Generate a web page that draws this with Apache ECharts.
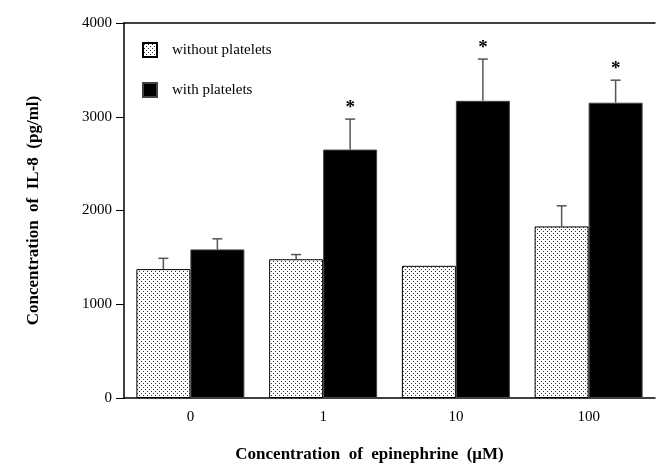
<!DOCTYPE html>
<html>
<head>
<meta charset="utf-8">
<script src="https://cdn.jsdelivr.net/npm/echarts@6/dist/echarts.min.js"></script>
<style>
  html, body { margin: 0; padding: 0; background: #fff; }
  #chart { width: 657px; height: 472px; }
</style>
</head>
<body>
<div id="chart"></div>
<script>
// data
var doses = ['0', '1', '10', '100'];
var withoutPlatelets = [1375, 1480, 1410, 1830];
var withoutErrTop = [1490, 1530, 1410, 2050];
var withPlatelets = [1585, 2650, 3170, 3150];
var withErrTop = [1698, 2975, 3615, 3390];
var significant = [false, true, true, true];

var serif = 'Liberation Serif';
var barW = 54;

// dotted fill for the "without platelets" bars
function dotPattern() {
  var c = document.createElement('canvas');
  c.width = 4; c.height = 4;
  var ctx = c.getContext('2d');
  ctx.fillStyle = '#fff';
  ctx.fillRect(0, 0, 4, 4);
  ctx.fillStyle = '#333';
  ctx.fillRect(1, 1, 1, 1);
  ctx.fillRect(3, 3, 1, 1);
  return c;
}

// error bar (+ optional star) drawn next to the bar center
function errorRenderer(tops, values, side, stars) {
  return function (params, api) {
    var i = api.value(0);
    var top = api.coord([i, tops[i]]);
    var base = api.coord([i, values[i]]);
    var x = top[0] + side * barW / 2;
    var children = [];
    if (tops[i] > values[i]) {
      children.push({
        type: 'line',
        shape: { x1: x, y1: base[1], x2: x, y2: top[1] },
        style: { stroke: '#555', lineWidth: 1.5 }
      });
      children.push({
        type: 'line',
        shape: { x1: x - 5, y1: top[1], x2: x + 5, y2: top[1] },
        style: { stroke: '#555', lineWidth: 1.5 }
      });
    }
    if (stars && stars[i]) {
      children.push({
        type: 'text',
        style: {
          text: '*', x: x, y: top[1] - 2,
          align: 'center', verticalAlign: 'bottom',
          font: 'bold 19px ' + serif, fill: '#000'
        }
      });
    }
    return { type: 'group', children: children };
  };
}

var chart = echarts.init(document.getElementById('chart'));
var idx = doses.map(function (d, i) { return [i]; });

chart.setOption({
  animation: false,
  grid: { left: 124, right: 2, top: 23, bottom: 74 },
  legend: {
    orient: 'vertical',
    left: 137, top: 37,
    itemWidth: 14, itemHeight: 14, itemGap: 24,
    icon: 'rect',
    data: ['without platelets', 'with platelets'],
    textStyle: { fontFamily: serif, fontSize: 15, color: '#000', padding: [0, 0, 0, 10] }
  },
  xAxis: [{
    type: 'category',
    data: doses,
    axisLine: { lineStyle: { color: '#000', width: 1.5 } },
    axisTick: { alignWithLabel: true, length: 7, lineStyle: { color: '#000' } },
    axisLabel: { fontFamily: serif, fontSize: 15, color: '#000', margin: 12 },
    name: 'Concentration  of  epinephrine  (\u03bcM)',
    nameLocation: 'middle',
    nameGap: 48,
    nameTextStyle: { fontFamily: serif, fontSize: 17, fontWeight: 'bold', color: '#000', padding: [0, 40, 0, 0] }
  }, {
    type: 'category',
    position: 'top',
    data: doses,
    axisLine: { lineStyle: { color: '#000', width: 1.5 } },
    axisTick: { show: false },
    axisLabel: { show: false }
  }],
  yAxis: {
    type: 'value',
    min: 0, max: 4000, interval: 1000,
    axisLine: { show: true, lineStyle: { color: '#000', width: 1.5 } },
    axisTick: { show: true, length: 8, lineStyle: { color: '#000' } },
    axisLabel: {
      fontFamily: serif, fontSize: 15, color: '#000', margin: 12,
      formatter: function (v) { return String(v); }
    },
    splitLine: { show: false },
    name: 'Concentration  of  IL-8  (pg/ml)',
    nameLocation: 'middle',
    nameGap: 82,
    nameTextStyle: { fontFamily: serif, fontSize: 17, fontWeight: 'bold', color: '#000' }
  },
  series: [{
    name: 'without platelets',
    type: 'bar',
    data: withoutPlatelets,
    barWidth: barW,
    barGap: '0%',
    itemStyle: {
      color: { image: dotPattern(), repeat: 'repeat' },
      borderColor: '#000', borderWidth: 1
    }
  }, {
    name: 'with platelets',
    type: 'bar',
    data: withPlatelets,
    barWidth: barW,
    itemStyle: { color: '#000', borderColor: '#444', borderWidth: 1 }
  }, {
    type: 'custom',
    data: idx,
    renderItem: errorRenderer(withoutErrTop, withoutPlatelets, -1, null),
    z: 5
  }, {
    type: 'custom',
    data: idx,
    renderItem: errorRenderer(withErrTop, withPlatelets, 1, significant),
    z: 5
  }]
});
</script>
</body>
</html>
